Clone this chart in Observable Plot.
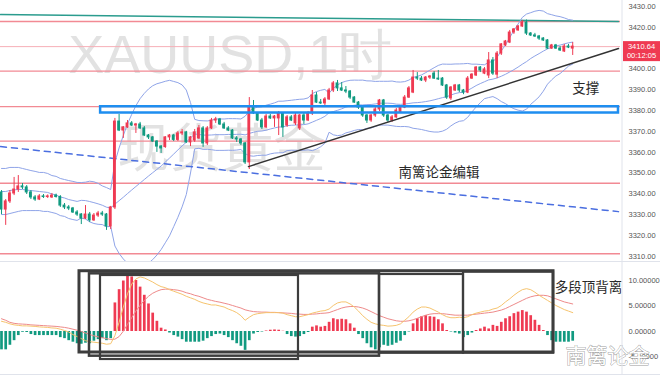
<!DOCTYPE html>
<html><head><meta charset="utf-8">
<script src="https://cdn.jsdelivr.net/npm/d3@7"></script>
<script src="https://cdn.jsdelivr.net/npm/@observablehq/plot@0.6"></script>
<style>
body{margin:0;background:#fff;}
#chart{width:660px;height:375px;position:relative;overflow:hidden;background:#fff;}
#chart svg{display:block;}
</style></head><body><div id="chart"></div>
<script>
// ---------- DATA ----------
const open = [3340.7,3332.5,3336.4,3340.2,3342.1,3343.6,3343.1,3340.7,3338.3,3337.3,
3338.8,3338.5,3338.3,3339.2,3338.5,3334.4,3333.5,3333.0,3331.1,3330.1,
3328.2,3330.1,3327.3,3329.6,3330.6,3330.1,3324.4,3333.5,3374.7,3370.4,
3371.9,3373.8,3372.8,3373.3,3371.4,3368.0,3367.1,3365.1,3362.7,3362.5,
3367.1,3368.0,3365.9,3369.0,3369.5,3364.7,3365.6,3366.6,3371.4,3364.2,
3371.4,3375.2,3375.7,3373.3,3371.4,3370.4,3366.6,3366.1,3364.2,3355.1,
3381.9,3378.6,3375.2,3371.9,3377.1,3376.2,3376.2,3378.6,3372.8,3376.7,
3373.8,3371.4,3377.6,3375.2,3378.6,3387.2,3383.8,3383.4,3385.3,3389.6,
3393.0,3390.6,3389.6,3389.1,3386.2,3383.8,3381.4,3377.6,3375.2,3377.6,
3380.5,3384.8,3377.6,3375.2,3376.7,3379.0,3381.4,3386.2,3388.6,3395.8,
3395.3,3394.4,3395.8,3397.7,3395.3,3395.3,3392.0,3385.8,3389.6,3392.0,
3389.6,3388.6,3395.3,3396.8,3400.6,3397.7,3396.8,3404.0,3397.2,3407.3,
3411.2,3412.6,3417.4,3418.4,3420.3,3422.2,3416.9,3416.0,3415.5,3414.5,
3413.6,3409.7,3411.2,3409.7,3408.3,3410.7,3409.7];
const high = [3341.6,3337.3,3341.6,3347.9,3348.8,3345.0,3344.0,3341.6,3339.2,3339.7,
3339.7,3339.5,3340.2,3339.9,3339.2,3335.4,3334.4,3333.5,3332.0,3330.6,
3334.4,3331.1,3330.6,3331.6,3331.6,3330.6,3334.0,3376.2,3378.1,3372.3,
3375.2,3374.7,3373.8,3374.3,3372.3,3368.5,3367.5,3365.6,3363.2,3367.5,
3368.5,3368.5,3369.9,3370.9,3370.0,3367.5,3370.9,3372.8,3372.3,3372.3,
3376.2,3376.7,3376.2,3374.3,3372.3,3370.9,3367.5,3366.6,3364.7,3386.2,
3384.8,3379.0,3376.2,3378.1,3378.1,3377.6,3379.5,3379.0,3377.6,3377.6,
3378.6,3378.1,3378.6,3379.5,3389.6,3388.6,3385.3,3386.2,3390.6,3393.9,
3394.4,3393.4,3391.5,3389.6,3386.7,3384.3,3381.9,3378.1,3378.1,3381.4,
3385.3,3385.3,3378.1,3377.6,3381.0,3382.4,3387.2,3391.5,3399.2,3398.2,
3396.3,3396.3,3396.8,3398.7,3399.2,3395.8,3392.5,3391.5,3392.5,3392.5,
3390.1,3396.3,3397.7,3401.1,3401.1,3400.6,3407.8,3405.4,3408.3,3412.1,
3413.6,3418.4,3419.3,3420.8,3423.2,3423.4,3417.4,3417.0,3416.0,3415.0,
3414.0,3411.7,3411.7,3410.7,3411.7,3411.7,3412.6];
const low = [3330.1,3324.9,3335.4,3339.2,3340.7,3342.1,3339.7,3337.3,3336.4,3336.8,
3337.8,3337.8,3337.8,3338.0,3333.5,3332.5,3332.0,3330.6,3329.2,3325.3,
3327.7,3326.3,3326.8,3328.7,3329.2,3322.5,3322.9,3332.5,3369.9,3366.6,
3371.4,3372.3,3369.0,3370.9,3367.5,3366.1,3364.7,3359.9,3359.4,3361.8,
3365.6,3365.1,3365.1,3368.0,3364.2,3362.7,3364.7,3366.1,3362.3,3363.2,
3370.9,3373.8,3372.8,3370.9,3369.9,3366.1,3364.7,3363.2,3354.1,3351.7,
3378.1,3374.7,3370.9,3371.4,3375.7,3371.9,3368.0,3367.1,3371.9,3374.7,
3372.8,3370.4,3373.3,3374.7,3377.6,3383.4,3382.9,3382.4,3384.8,3388.6,
3389.1,3389.1,3388.1,3385.3,3383.4,3380.5,3376.7,3373.8,3374.3,3376.7,
3379.5,3376.7,3374.3,3374.3,3376.2,3378.6,3380.9,3385.8,3388.1,3394.4,
3393.9,3393.4,3394.9,3394.9,3394.4,3391.5,3385.3,3384.8,3389.1,3388.6,
3387.6,3388.1,3394.9,3396.3,3398.2,3397.2,3395.3,3396.8,3395.3,3406.4,
3410.7,3412.1,3416.5,3418.0,3419.8,3416.0,3415.5,3415.0,3413.6,3413.1,
3409.3,3409.3,3409.3,3408.3,3407.8,3409.7,3406.4];
const close = [3332.5,3336.4,3340.2,3342.1,3343.6,3343.1,3340.7,3338.3,3337.3,3338.8,
3338.5,3338.8,3339.2,3338.5,3334.4,3333.5,3333.0,3331.1,3330.1,3328.2,
3330.1,3327.3,3329.6,3330.6,3330.1,3324.4,3333.5,3374.7,3370.4,3371.9,
3373.8,3372.8,3373.3,3371.4,3368.0,3367.1,3365.1,3362.7,3361.8,3367.1,
3368.0,3365.9,3369.0,3369.5,3364.7,3367.1,3369.5,3371.4,3364.2,3371.4,
3375.2,3375.7,3373.3,3371.4,3370.4,3366.6,3366.1,3364.2,3355.1,3381.9,
3378.6,3375.2,3371.9,3377.1,3376.2,3377.1,3378.6,3371.9,3376.7,3375.2,
3377.6,3377.6,3375.2,3378.6,3387.2,3383.8,3383.4,3385.3,3389.6,3393.0,
3390.6,3389.6,3389.1,3386.2,3383.8,3381.4,3377.6,3375.2,3377.6,3380.5,
3384.8,3377.6,3375.2,3376.7,3380.0,3381.9,3386.2,3390.6,3395.8,3395.3,
3394.4,3395.8,3396.3,3395.3,3394.9,3392.0,3386.2,3391.0,3392.0,3389.6,
3388.6,3395.3,3397.2,3400.6,3399.2,3399.7,3404.0,3397.7,3407.3,3411.7,
3413.1,3417.4,3418.9,3420.3,3422.2,3416.9,3416.0,3415.5,3414.5,3413.6,
3409.7,3411.2,3409.7,3408.8,3410.7,3410.2,3410.64];

// Bollinger band values visible before a full 20-bar window exists
const bbUpperStart = [3352.2,3352.2,3352.7,3352.7,3352.7,3352.2,3351.7,3351.2,3350.8,3350.3,3350.3,3349.8,3348.8,3348.4,3347.4,3346.9,3346.4,3346.0,3345.5];
const bbLowerStart = [3330.1,3330.1,3330.6,3331.1,3331.6,3332.0,3332.0,3332.0,3332.0,3332.0,3331.6,3331.6,3331.1,3330.6,3329.6,3329.2,3328.2,3327.7,3327.3];

const macdHist = [-3.6,-3.6,-2.7,-1.8,-0.8,-0.15,-0.2,-0.6,-0.8,-0.8,-0.8,-0.8,-0.8,-0.8,-1.2,-1.4,-1.8,-2.1,-2.4,-2.5,-2.3,-2.4,-1.9,-1.6,-1.4,-1.8,-1.4,
5.6,8.2,9.9,10.9,10.7,10.0,8.7,7.1,5.4,3.6,2.0,0.65,0.3,
-0.3,-0.8,-1.1,-1.6,-2.1,-2.1,-2.1,-2.1,-1.9,-1.4,-1.0,-0.6,-0.5,-0.8,-1.2,-1.8,-2.4,-2.9,-3.7,-1.8,-0.5,-0.2,-0.1,
0.1,0.25,0.3,0.25,0.05,
-0.6,-1.0,-1.1,-1.0,-0.6,-0.2,
0.85,1.1,0.85,1.0,1.8,2.5,2.3,2.4,2.3,1.5,0.65,
-0.6,-1.4,-2.4,-3.2,-3.6,-3.2,-2.7,-2.9,-2.7,-2.3,-1.9,-0.8,-0.1,
1.5,2.5,2.9,3.1,2.9,2.8,2.3,1.5,0.2,
-0.1,-0.3,-0.5,-1.2,-0.8,-0.3,
0.2,0.5,0.85,0.5,1.2,1.0,1.8,2.5,2.9,3.5,3.8,4.1,3.8,3.1,2.2,1.2,0.2,
-0.8,-1.8,-2.1,-2.1,-2.1,-2.1,-1.9];
const macdDif = [2.0,1.8,1.5,1.3,1.2,1.1,1.1,1.05,1.0,0.9,0.85,0.8,0.7,0.65,0.45,0.2,-0.1,-0.6,-1.0,-1.4,-1.8,-2.0,-2.1,-2.2,-2.3,-2.5,-2.4,
-0.8,1.8,4.8,7.4,9.3,10.3,10.7,10.5,10.1,9.7,9.2,8.8,8.6,
8.2,7.9,7.6,7.3,6.9,6.6,6.3,5.9,5.6,5.4,5.2,5.2,5.0,4.8,4.4,4.1,3.7,3.1,2.2,2.8,3.3,3.5,3.6,
3.7,3.7,3.7,3.7,3.6,
3.3,3.1,2.9,2.9,3.1,3.3,
3.6,3.8,4.0,4.1,4.4,5.1,5.6,5.8,5.8,5.4,4.8,
4.0,3.1,2.4,1.8,1.5,1.3,1.2,1.05,1.1,1.2,1.5,2.2,2.9,
3.8,4.4,4.8,4.8,4.6,4.2,3.8,3.3,2.9,
2.7,2.7,2.8,2.7,2.9,3.3,
3.6,3.8,4.0,4.1,4.4,4.6,5.1,5.8,6.4,7.1,7.7,8.2,8.4,8.2,7.7,7.1,6.6,
6.1,5.6,5.1,4.7,4.3,4.0,3.7];
const macdDea = [2.5,2.2,1.8,1.6,1.5,1.45,1.4,1.3,1.25,1.2,1.15,1.1,1.05,1.0,0.9,0.8,0.65,0.45,0.25,0,-0.3,-0.6,-0.85,-1.05,-1.2,-1.4,-1.55,
-1.5,-1.0,0.05,1.4,2.7,4.0,5.1,6.1,6.9,7.5,7.9,8.2,8.3,
8.3,8.2,8.1,7.9,7.6,7.4,7.1,6.9,6.6,6.3,6.1,5.9,5.75,5.55,5.35,5.1,4.85,4.6,4.25,4.05,3.9,3.85,3.8,
3.8,3.75,3.75,3.7,3.65,
3.6,3.55,3.45,3.4,3.35,3.35,
3.4,3.45,3.55,3.6,3.7,4.0,4.3,4.6,4.8,4.9,4.9,
4.8,4.6,4.3,3.9,3.5,3.1,2.8,2.5,2.3,2.1,2.0,2.0,2.1,
2.3,2.6,2.9,3.2,3.4,3.5,3.5,3.5,3.4,
3.3,3.2,3.2,3.2,3.2,3.3,
3.4,3.5,3.6,3.7,3.8,4.0,4.2,4.5,4.9,5.3,5.7,6.1,6.5,6.8,7.0,7.1,7.1,
7.0,6.7,6.4,6.1,5.8,5.6,5.4];

// 3410.00 is covered by the price tag in the reference, so it is not listed
const priceTicks = [3310,3320,3330,3340,3350,3360,3370,3380,3390,3400,3420,3430];
const macdTicks = [-5,0,5,10];
const levelLines = [3422.7,3398.85,3381.9,3365.3,3345.1,3311.3];
const lastPrice = 3410.64;
const countdown = "00:12:05";
// drawn annotations, in (bar index, price) terms
const tealLine = [[-0.24,3426.0],[146.9,3422.7]];
const dashLine = [[-0.24,3362.7],[146.9,3331.5]];
const supportLine = [[58.8,3353.1],[146.9,3409.7]];
const zone = [{x1:23.6,x2:146.9,y1:3378.8,y2:3381.8}];
const priceNotes = [{label:"南篱论金编辑",i:94.5,p:3348.3},{label:"支撑",i:135.9,p:3388.2}];
const symbolMark = [{label:"XAUUSD,1时",i:15.9,p:3398.2}];
const nameMark = [{label:"现货黄金",i:27.6,p:3352.8}];
// divergence boxes, in (bar index, MACD value) terms
const divBoxes = [
  {x1:18.57,x2:131.43,y1:-4.12,y2:11.82,w:3},
  {x1:20.95,x2:90.0,y1:-4.84,y2:11.31,w:2.5},
  {x1:23.57,x2:70.71,y1:-5.49,y2:10.98,w:2.2},
  {x1:90.0,x2:110.0,y1:-4.25,y2:11.18,w:2.2},
  {x1:110.0,x2:131.43,y1:-4.25,y2:11.63,w:2.2}];
const macdNotes = [{label:"多段顶背离",i:131.7,v:7.65}];
const signNote = [{label:"南篱论金",i:134.3,v:-6.1}];

// ---------- derived tables ----------
const bars = close.map((c,i)=>({i,o:open[i],h:high[i],l:low[i],c}));
const up = bars.filter(d=>d.c>=d.o), dn = bars.filter(d=>d.c<d.o);
const bb = bars.map((d,i)=>{
  if (i < bbUpperStart.length) return {i,up:bbUpperStart[i],lo:bbLowerStart[i],mid:(bbUpperStart[i]+bbLowerStart[i])/2};
  const w = close.slice(i-19,i+1), m = d3.mean(w);
  const sd = Math.sqrt(d3.mean(w,v=>(v-m)*(v-m)));
  return {i,up:m+2*sd,lo:m-2*sd,mid:m};
});
const hist = macdHist.map((v,i)=>({i,v}));
const difT = macdDif.map((v,i)=>({i,v})), deaT = macdDea.map((v,i)=>({i,v}));

const RED="#ef3a52", GREEN="#119a80", BAND="#8fa4e8";
const xDomain=[-0.238,147.38];
const baseStyle={background:"transparent",fontFamily:"'Liberation Sans',Arial,sans-serif",fontSize:"7.5px",color:"#555",overflow:"visible"};
const CJK="'Noto Sans CJK SC',sans-serif";

const frameLines=(index,scales,values,dims)=>{
  const g=d3.create("svg:g");
  const xr=dims.width-dims.marginRight+2;
  g.append("line").attr("x1",xr).attr("x2",xr).attr("y1",0).attr("y2",dims.height).attr("stroke","#e0e3eb");
  g.append("line").attr("x1",0).attr("x2",dims.width).attr("y1",dims.height-0.5).attr("y2",dims.height-0.5).attr("stroke","#e0e3eb");
  return g.node();
};
const priceTag=(index,scales,values,dims)=>{
  const g=d3.create("svg:g");
  const y=scales.y(lastPrice), x0=dims.width-dims.marginRight+3, cx=(x0+dims.width)/2;
  g.append("rect").attr("x",x0).attr("y",y-5).attr("width",dims.width-x0).attr("height",20).attr("fill",RED);
  g.append("text").attr("x",cx).attr("y",y+2.6).attr("text-anchor","middle").attr("fill","#fff").attr("font-size",7.5).text(lastPrice.toFixed(2));
  g.append("text").attr("x",cx).attr("y",y+12.3).attr("text-anchor","middle").attr("fill","#fff").attr("font-size",7.5).text(countdown);
  return g.node();
};

const main = Plot.plot({
  width:660,height:262,marginLeft:0,marginRight:40,marginTop:0,marginBottom:0,
  style:baseStyle,
  x:{domain:xDomain,axis:null},
  y:{domain:[3307.1,3432.76],axis:"right",ticks:priceTicks,tickFormat:d=>d.toFixed(2),tickSize:0,tickPadding:8,label:null},
  marks:[
    Plot.text(symbolMark,{x:"i",y:"p",text:"label",textAnchor:"start",lineAnchor:"bottom",fontSize:54,fill:"#e2e2e2",fontFamily:"'Liberation Sans',Arial,sans-serif"}),
    Plot.text(nameMark,{x:"i",y:"p",text:"label",textAnchor:"start",lineAnchor:"bottom",fontSize:52,fill:"#e2e2e2",fontFamily:CJK}),
    Plot.ruleY(levelLines,{stroke:"#f28a94",strokeWidth:1.3}),
    Plot.ruleY([lastPrice],{stroke:"#f6b0b8",strokeWidth:1}),
    Plot.line(tealLine,{x:d=>d[0],y:d=>d[1],stroke:"#2b9c8e",strokeWidth:1.5}),
    Plot.line(bb,{x:"i",y:"up",stroke:BAND,strokeWidth:1,clip:true}),
    Plot.line(bb,{x:"i",y:"mid",stroke:BAND,strokeWidth:1,clip:true}),
    Plot.line(bb,{x:"i",y:"lo",stroke:BAND,strokeWidth:1,clip:true}),
    Plot.line(dashLine,{x:d=>d[0],y:d=>d[1],stroke:"#4a6ee0",strokeWidth:1.5,strokeDasharray:"6,5"}),
    Plot.ruleX(up,{x:"i",y1:"l",y2:"h",stroke:RED,strokeWidth:1}),
    Plot.ruleX(dn,{x:"i",y1:"l",y2:"h",stroke:GREEN,strokeWidth:1}),
    Plot.rect(up,{x1:d=>d.i-0.34,x2:d=>d.i+0.34,y1:"o",y2:"c",fill:RED,insetTop:-0.5,insetBottom:-0.5}),
    Plot.rect(dn,{x1:d=>d.i-0.34,x2:d=>d.i+0.34,y1:"o",y2:"c",fill:GREEN,insetTop:-0.5,insetBottom:-0.5}),
    Plot.line(supportLine,{x:d=>d[0],y:d=>d[1],stroke:"#333",strokeWidth:1.5}),
    Plot.rect(zone,{x1:"x1",x2:"x2",y1:"y1",y2:"y2",fill:"none",stroke:"#1e8ef0",strokeWidth:2.5}),
    Plot.text(priceNotes,{x:"i",y:"p",text:"label",textAnchor:"start",lineAnchor:"bottom",fontSize:13.5,fill:"#2a2a2a",fontFamily:CJK}),
    frameLines,
    priceTag
  ]
});

const macd = Plot.plot({
  width:660,height:113,marginLeft:0,marginRight:40,marginTop:0,marginBottom:0,
  style:baseStyle,
  x:{domain:xDomain,axis:null},
  y:{domain:[-8.63,13.53],axis:"right",ticks:macdTicks,tickFormat:d=>d.toFixed(5),tickSize:0,tickPadding:8,label:null},
  marks:[
    Plot.ruleX(hist.filter(d=>d.v>=0),{x:"i",y1:0,y2:"v",stroke:RED,strokeWidth:2.7}),
    Plot.ruleX(hist.filter(d=>d.v<0),{x:"i",y1:0,y2:"v",stroke:GREEN,strokeWidth:2.7}),
    Plot.line(deaT,{x:"i",y:"v",stroke:"#ee8a8a",strokeWidth:1}),
    Plot.line(difT,{x:"i",y:"v",stroke:"#f6c46e",strokeWidth:1}),
    Plot.rect(divBoxes,{x1:"x1",x2:"x2",y1:"y1",y2:"y2",fill:"none",stroke:"#3d3d3d",strokeWidth:"w"}),
    Plot.text(macdNotes,{x:"i",y:"v",text:"label",textAnchor:"start",lineAnchor:"bottom",fontSize:13.5,fill:"#2a2a2a",fontFamily:CJK}),
    Plot.text(signNote,{x:"i",y:"v",text:"label",textAnchor:"start",lineAnchor:"bottom",fontSize:21,fill:"#fff",stroke:"#9a9a9a",strokeWidth:0.9,fontFamily:CJK}),
    frameLines
  ]
});

const root=document.getElementById("chart");
root.appendChild(main);
root.appendChild(macd);
</script></body></html>
